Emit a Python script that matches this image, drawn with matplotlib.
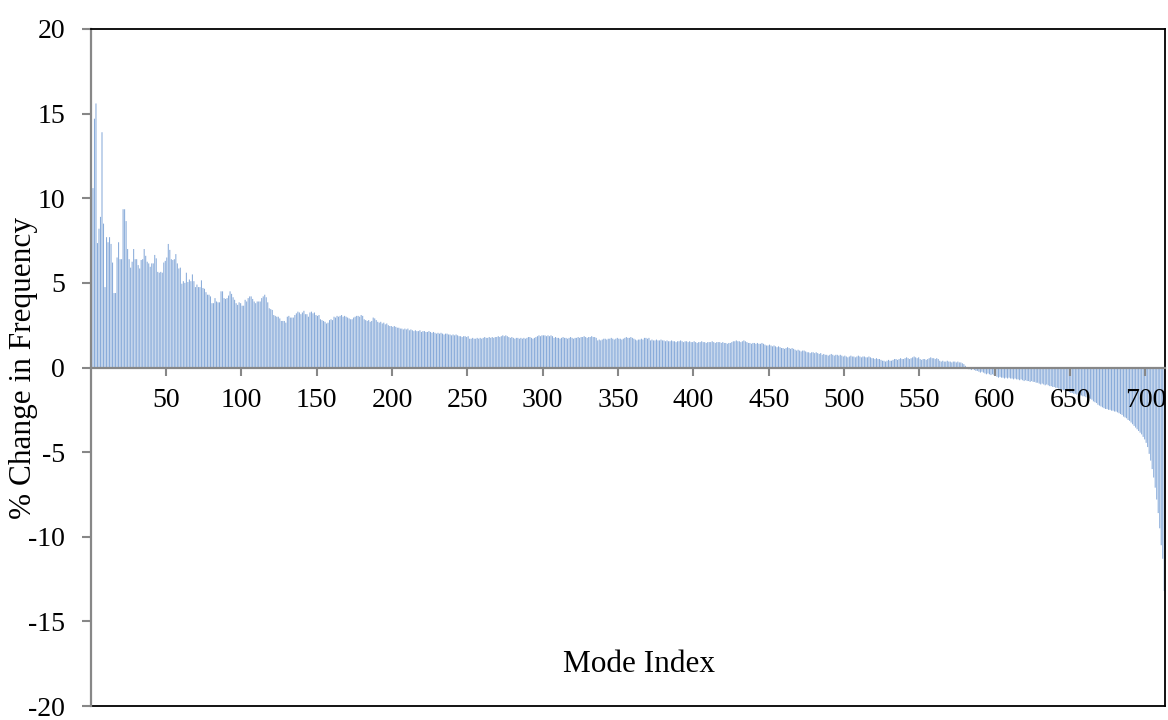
import numpy as np
import matplotlib
matplotlib.use("Agg")
import matplotlib.pyplot as plt

plt.rcParams['font.family'] = ['Liberation Serif', 'DejaVu Serif']
plt.rcParams['axes.unicode_minus'] = False

# % change in frequency per mode
modes_001_040 = [14.7, 10.6, 14.7, 15.6, 7.35, 8.2, 8.9, 13.9, 8.5, 4.75,
                 7.7, 7.4, 7.7, 7.3, 6.2, 4.4, 4.4, 6.5, 7.4, 6.4,
                 6.4, 9.35, 9.35, 8.65, 7.0, 6.4, 5.9, 6.25, 7.0, 6.4,
                 6.4, 6.05, 5.85, 6.35, 6.4, 7.0, 6.6, 6.25, 6.15, 5.95]
modes_041_093 = [6.15, 6.15, 6.65, 6.45, 5.65, 5.6, 5.65, 5.6, 6.2, 6.3,
                 6.5, 7.3, 6.95, 6.4, 6.35, 6.4, 6.7, 6.15, 5.85, 5.9,
                 4.95, 5.1, 5.0, 5.6, 5.05, 5.2, 5.1, 5.5, 5.1, 4.75,
                 4.9, 4.75, 4.75, 5.15, 4.7, 4.65, 4.45, 4.3, 4.3, 4.2,
                 3.8, 3.8, 4.1, 3.9, 3.85, 3.85, 4.5, 4.5, 4.1, 4.05,
                 4.1, 4.25, 4.5]
modes_094_145 = [4.35, 4.15, 4.0, 3.8, 3.7, 3.85, 3.8, 3.65, 3.65, 4.0,
                 3.9, 4.1, 4.2, 4.2, 4.05, 3.9, 3.8, 3.9, 3.9, 3.9,
                 4.1, 4.2, 4.3, 4.15, 3.85, 3.5, 3.45, 3.4, 3.1, 3.05,
                 3.0, 3.0, 2.9, 2.75, 2.75, 2.75, 2.65, 3.0, 3.05, 2.95,
                 2.95, 2.95, 3.1, 3.2, 3.3, 3.25, 3.15, 3.25, 3.35, 3.15,
                 3.15, 3.0]
modes_146_300 = [3.25, 3.3, 3.2, 3.25, 3.1, 3.05, 3.1, 2.85, 2.8, 2.75,
                 2.7, 2.6, 2.65, 2.8, 2.85, 2.8,
                 3.0, 2.95, 3.05, 3.0, 3.05, 3.1, 3.0, 3.05, 3.0, 2.95,
                 2.9, 2.85, 2.85, 2.95, 3.0, 3.05, 3.05, 3.0, 3.1, 3.05,
                 2.85, 2.8, 2.75, 2.8, 2.7, 2.75, 2.95, 2.9, 2.8,
                 2.7, 2.65, 2.7, 2.6, 2.65, 2.55, 2.6, 2.5,
                 2.45, 2.45, 2.4, 2.45, 2.4, 2.35, 2.35,
                 2.3, 2.3, 2.25, 2.3, 2.25, 2.3, 2.2, 2.25, 2.2,
                 2.15, 2.2, 2.15, 2.15, 2.2, 2.1, 2.15, 2.15, 2.1,
                 2.1, 2.15, 2.1, 2.05, 2.1, 2.05,
                 2.0, 2.05, 2.0, 2.05, 2.0, 1.95, 2.0, 2.0, 1.95,
                 1.95, 1.9, 1.95, 1.9, 1.95, 1.9, 1.85,
                 1.85, 1.8, 1.85, 1.85, 1.8, 1.85,
                 1.7, 1.7, 1.75, 1.7, 1.7, 1.75, 1.7, 1.75, 1.7,
                 1.75, 1.8, 1.75, 1.75, 1.8, 1.75, 1.8, 1.75, 1.8, 1.8, 1.85, 1.8, 1.85,
                 1.9, 1.85, 1.9, 1.85, 1.8,
                 1.75, 1.8, 1.75, 1.7, 1.75, 1.75, 1.7, 1.75,
                 1.7, 1.75, 1.7, 1.75, 1.8, 1.8, 1.75, 1.7, 1.75, 1.8, 1.85, 1.9, 1.85, 1.9]
modes_301_454 = [1.9, 1.9, 1.85, 1.9, 1.85, 1.9, 1.85,
                 1.75, 1.8, 1.75, 1.75, 1.7, 1.75, 1.8, 1.75, 1.75, 1.7, 1.75, 1.8, 1.75, 1.7, 1.75, 1.75, 1.8, 1.75,
                 1.8, 1.8, 1.85, 1.8, 1.75, 1.8, 1.8, 1.85, 1.8, 1.8, 1.75,
                 1.6, 1.65, 1.6, 1.65, 1.7,
                 1.7, 1.65, 1.7, 1.7, 1.75, 1.7, 1.65, 1.7, 1.75, 1.7, 1.7, 1.65, 1.7,
                 1.75, 1.8, 1.75, 1.75, 1.8, 1.75, 1.7,
                 1.65, 1.6, 1.65, 1.65, 1.7, 1.65,
                 1.75, 1.75, 1.7, 1.75,
                 1.6, 1.65, 1.6, 1.6, 1.65, 1.6, 1.6, 1.65, 1.6, 1.6, 1.55, 1.6,
                 1.55, 1.55, 1.6, 1.55, 1.55, 1.5, 1.55, 1.55, 1.6, 1.55, 1.5, 1.55, 1.55, 1.5, 1.55,
                 1.5, 1.5, 1.55, 1.5, 1.45, 1.5, 1.5, 1.55, 1.5, 1.5, 1.45, 1.5, 1.5, 1.5, 1.55, 1.5,
                 1.45, 1.5, 1.5, 1.5, 1.45, 1.5,
                 1.45, 1.45, 1.4, 1.45, 1.45, 1.5,
                 1.55, 1.55, 1.6, 1.55, 1.55, 1.5, 1.55, 1.6, 1.55, 1.5,
                 1.45, 1.45, 1.4, 1.45, 1.45, 1.4, 1.45, 1.4, 1.4, 1.45, 1.4,
                 1.35, 1.3, 1.3, 1.35, 1.3, 1.25, 1.3]
modes_455_581 = [1.25, 1.2, 1.25, 1.2, 1.15,
                 1.15, 1.1, 1.15, 1.2, 1.15, 1.1, 1.15, 1.1, 1.05,
                 1.0, 1.05, 1.0, 0.95, 1.0, 1.0, 0.95, 0.9,
                 0.9, 0.85, 0.9, 0.9, 0.85, 0.9, 0.85, 0.8, 0.85,
                 0.75, 0.8, 0.75, 0.75, 0.7, 0.75, 0.8, 0.75, 0.7, 0.75, 0.75, 0.7, 0.75, 0.7,
                 0.65, 0.7, 0.65, 0.6, 0.65, 0.7, 0.65, 0.65, 0.6, 0.65, 0.7, 0.65, 0.6, 0.65, 0.65, 0.6, 0.6, 0.65, 0.6, 0.55,
                 0.55, 0.5, 0.55, 0.5, 0.5, 0.45,
                 0.4, 0.4, 0.35, 0.4, 0.45, 0.4, 0.4, 0.45, 0.5,
                 0.5, 0.45, 0.5, 0.55, 0.5, 0.5, 0.55, 0.6, 0.55, 0.5, 0.55,
                 0.6, 0.65, 0.6, 0.55, 0.6,
                 0.5, 0.45, 0.5, 0.5, 0.45, 0.5, 0.55, 0.6, 0.55,
                 0.55, 0.5, 0.55, 0.5,
                 0.4, 0.35, 0.4, 0.35, 0.35, 0.4, 0.35, 0.35, 0.3, 0.35, 0.35, 0.3, 0.35, 0.3, 0.3, 0.25, 0.2, 0.1]
modes_582_713 = [-0.05, -0.1, -0.1, -0.15, -0.1, -0.15, -0.2, -0.2,
                 -0.25, -0.3, -0.25, -0.3, -0.35, -0.4, -0.35, -0.4, -0.45, -0.4, -0.45, -0.5,
                 -0.55, -0.6, -0.55, -0.6, -0.6, -0.65, -0.6, -0.65, -0.6, -0.65, -0.65, -0.7, -0.65, -0.7, -0.7,
                 -0.75, -0.7, -0.75, -0.8, -0.75, -0.8, -0.8, -0.85, -0.8, -0.85, -0.85, -0.9, -0.9,
                 -0.95, -1.0, -0.95, -1.0, -1.05, -1.0, -1.05, -1.1, -1.1, -1.15, -1.15, -1.2, -1.2,
                 -1.25, -1.3, -1.3, -1.35, -1.35, -1.4, -1.4, -1.45, -1.5, -1.5, -1.55, -1.55, -1.6, -1.6,
                 -1.65, -1.65, -1.7, -1.7, -1.75, -1.8, -1.8, -1.85, -1.9,
                 -2.0, -2.05, -2.1, -2.2, -2.25, -2.3, -2.35, -2.4,
                 -2.45, -2.45, -2.5, -2.5, -2.55, -2.55, -2.6, -2.6, -2.65,
                 -2.7, -2.75, -2.8, -2.9, -2.95, -3.0, -3.1, -3.15, -3.25,
                 -3.35, -3.45, -3.55, -3.65, -3.75, -3.85, -3.95, -4.1, -4.25,
                 -4.45, -4.7, -5.1, -5.5, -6.0, -6.5, -7.1, -7.8, -8.6, -9.5, -10.5, -11.3, -13.2]

values = (modes_001_040 + modes_041_093 + modes_094_145 + modes_146_300 +
          modes_301_454 + modes_455_581 + modes_582_713)
mode_index = np.arange(1, len(values) + 1)

x_tick_values = list(range(50, 701, 50))
y_tick_values = list(range(-20, 21, 5))

W, H = 1168, 720
fig = plt.figure(figsize=(W / 100, H / 100), dpi=100)
ax = fig.add_axes([90.7 / W, (H - 706) / H, (1165 - 90.7) / W, (706 - 29) / H])

ax.bar(mode_index, values, width=0.7, color='#8AACDA', linewidth=0, snap=False)

n = len(values)
ax.set_xlim(0.5, n + 0.5)
ax.set_ylim(-20, 20)

gray = '#878787'
ax.spines['left'].set_color(gray)
ax.spines['left'].set_linewidth(1.6)
ax.spines['bottom'].set_position(('data', 0))
ax.spines['bottom'].set_color(gray)
ax.spines['bottom'].set_linewidth(1.6)
for s in ('top', 'right'):
    ax.spines[s].set_color('black')
    ax.spines[s].set_linewidth(1.3)
ax.plot([0, 1], [0, 0], transform=ax.transAxes, color='black', lw=1.3, clip_on=False)

ax.set_xticks([v + 0.5 for v in x_tick_values])
ax.set_xticklabels([str(v) for v in x_tick_values])
ax.set_yticks(y_tick_values)
ax.set_yticklabels([str(v) for v in y_tick_values])

ax.tick_params(axis='x', direction='out', length=6, width=1.5, color=gray,
               labelsize=20, pad=9, labelcolor='black')
ax.tick_params(axis='y', direction='out', length=6.5, width=1.5, color=gray,
               labelsize=20, pad=12, labelcolor='black')

fig.text(639 / W, 1 - 665 / H, 'Mode Index', ha='center', va='center', fontsize=22.5)
fig.text(24 / W, 1 - 368 / H, '% Change in Frequency', rotation=90,
         ha='center', va='center', fontsize=22.5)

fig.savefig('out.png', dpi=100)
